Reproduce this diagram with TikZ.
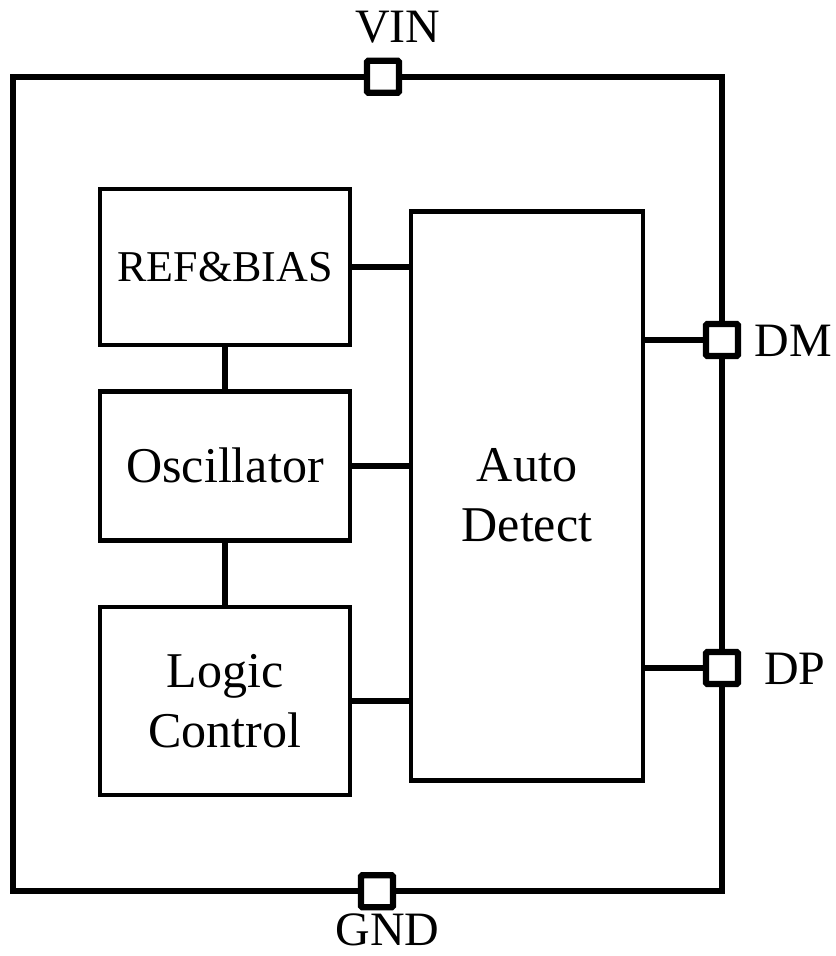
\documentclass[tikz,border=0pt]{standalone}
\usepackage{fontspec}
\setmainfont{Liberation Serif}
\usetikzlibrary{positioning}
\begin{document}
\begin{tikzpicture}[
    block/.style={draw, line width=3.5pt, align=center, inner sep=0pt, font=\fontsize{35.6}{42.7}\selectfont},
    pin/.style={draw, fill=white, line width=4.5pt, minimum size=0.8cm, inner sep=0pt, rounded corners=1pt},
    pinlabel/.style={font=\fontsize{34.1}{40}\selectfont, anchor=base, inner sep=0pt},
    wire/.style={line width=4.25pt}
  ]
  \useasboundingbox (0,0) rectangle (20.9,23.9);
  \draw[wire] (0.32,1.62) rectangle (18.05,21.98);
  \node[block, minimum width=6.25cm, minimum height=3.9cm, font=\fontsize{31.3}{37.6}\selectfont] (ref) at (5.625,17.225) {REF\&BIAS};
  \node[block, minimum width=6.25cm, minimum height=3.725cm] (osc) at (5.625,12.26) {Oscillator};
  \node[block, minimum width=6.25cm, minimum height=4.7cm] (logic) at (5.625,6.375) {Logic\\Control};
  \node[block, minimum width=5.8cm, minimum height=14.225cm] (auto) at (13.175,11.51) {Auto\\Detect};
  \node[pin] (vin) at (9.575,21.98) {};
  \node[pin] (gnd) at (9.425,1.62) {};
  \node[pin] (dm) at (18.05,15.4) {};
  \node[pin] (dp) at (18.05,7.2) {};
  \node[pinlabel] (vinlabel) at (9.94,22.83) {VIN};
  \node[pinlabel] (gndlabel) at (9.69,0.25) {GND};
  \node[pinlabel] (dmlabel) at (19.83,14.975) {DM};
  \node[pinlabel] (dplabel) at (19.875,6.775) {DP};
  \draw[wire] (ref.south) -- (osc.north);
  \draw[wire] (osc.south) -- (logic.north);
  \draw[wire] (ref.east) -- (ref.east -| auto.west);
  \draw[wire] (osc.east) -- (osc.east -| auto.west);
  \draw[wire] (logic.east) -- (logic.east -| auto.west);
  \draw[wire] (auto.east |- dm) -- (dm.west);
  \draw[wire] (auto.east |- dp) -- (dp.west);
\end{tikzpicture}
\end{document}
